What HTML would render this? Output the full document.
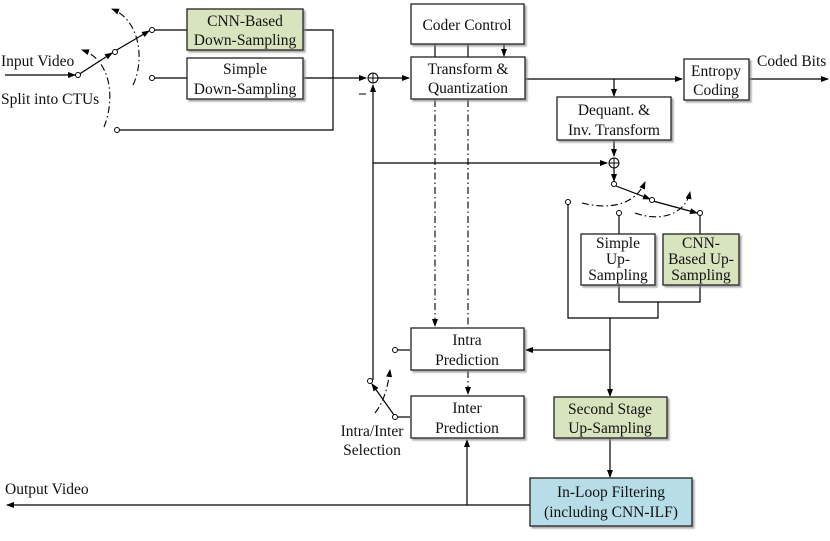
<!DOCTYPE html>
<html><head><meta charset="utf-8"><style>
html,body{margin:0;padding:0;background:#fff}
svg{display:block}
text{font-family:"Liberation Serif",serif;font-size:15.5px;fill:#111;text-anchor:middle}
.l{text-anchor:start}
</style></head><body>
<svg width="830" height="541" viewBox="0 0 830 541" xmlns="http://www.w3.org/2000/svg">
<defs>
<marker id="a" markerWidth="8" markerHeight="8" refX="7" refY="4" orient="auto" markerUnits="userSpaceOnUse"><path d="M0,1 L8,4 L0,7z" fill="#000"/></marker>
<filter id="s" x="-10%" y="-10%" width="130%" height="130%"><feDropShadow dx="2" dy="2" stdDeviation="0.8" flood-color="#888" flood-opacity="0.7"/></filter>
</defs>
<g stroke="#000" stroke-width="1.2" fill="none">
<line x1="5" y1="75" x2="75" y2="75" marker-end="url(#a)"/>
<line x1="78" y1="75" x2="112" y2="53" marker-end="url(#a)"/>
<line x1="115" y1="51" x2="149" y2="31" marker-end="url(#a)"/>
<line x1="152" y1="30" x2="187" y2="30"/>
<line x1="154" y1="78" x2="187" y2="78"/>
<polyline points="303,30 333,30 333,130 119,130"/>
<line x1="303" y1="78" x2="366" y2="78" marker-end="url(#a)"/>
<line x1="378" y1="78" x2="409" y2="78" marker-end="url(#a)"/>
<line x1="373" y1="380" x2="373" y2="85" marker-end="url(#a)"/>
<line x1="373" y1="163" x2="607" y2="163" marker-end="url(#a)"/>
<line x1="435" y1="44" x2="435" y2="57"/>
<line x1="468" y1="44" x2="468" y2="57"/>
<line x1="504" y1="44" x2="504" y2="56" marker-end="url(#a)"/>
<line x1="525" y1="79" x2="682" y2="79" marker-end="url(#a)"/>
<line x1="614" y1="79" x2="614" y2="96" marker-end="url(#a)"/>
<line x1="749" y1="79" x2="828" y2="79" marker-end="url(#a)"/>
<line x1="614" y1="140" x2="614" y2="156" marker-end="url(#a)"/>
<line x1="614" y1="168" x2="614" y2="181" marker-end="url(#a)"/>
<line x1="616" y1="186" x2="650" y2="199" marker-end="url(#a)"/>
<line x1="653" y1="201" x2="697" y2="213" marker-end="url(#a)"/>
<line x1="619" y1="215" x2="619" y2="234"/>
<line x1="700" y1="215" x2="700" y2="234"/>
<polyline points="619,285 619,302 700,302 700,285"/>
<polyline points="568,204 568,318 658,318 658,302"/>
<line x1="610" y1="318" x2="610" y2="396" marker-end="url(#a)"/>
<line x1="610" y1="350" x2="526" y2="350" marker-end="url(#a)"/>
<line x1="610" y1="438" x2="610" y2="477" marker-end="url(#a)"/>
<line x1="530" y1="505" x2="7" y2="505" marker-end="url(#a)"/>
<line x1="467" y1="505" x2="467" y2="440" marker-end="url(#a)"/>
<line x1="398" y1="350" x2="410" y2="350"/>
<line x1="398" y1="417" x2="410" y2="417"/>
<line x1="394" y1="415" x2="372" y2="384" marker-end="url(#a)"/>
</g>
<g stroke="#000" stroke-width="1.1" fill="none" stroke-dasharray="7,3,1.5,3">
<line x1="435" y1="100" x2="435" y2="326" marker-end="url(#a)"/>
<line x1="468" y1="100" x2="468" y2="328"/>
<line x1="468" y1="371" x2="468" y2="394" marker-end="url(#a)"/>
<path d="M104,127 C115,100 112,60 82,50" marker-end="url(#a)"/>
<path d="M133,85 C145,60 140,20 112,9" marker-end="url(#a)"/>
<path d="M375,413 C385,400 388,385 390,370" marker-end="url(#a)"/>
<path d="M582,203 C610,210 635,205 645,182" marker-end="url(#a)"/>
<path d="M635,213 C660,222 685,215 690,192" marker-end="url(#a)"/>
</g>
<g stroke="#000" stroke-width="1" fill="#fff">
<circle cx="78" cy="75" r="2.5"/><circle cx="115" cy="52" r="2.5"/><circle cx="152" cy="30" r="2.5"/>
<circle cx="152" cy="78" r="2.5"/><circle cx="117" cy="130" r="2.5"/>
<circle cx="614" cy="184" r="2.5"/><circle cx="652" cy="200" r="2.5"/><circle cx="700" cy="213" r="2.5"/>
<circle cx="568" cy="202" r="2.5"/><circle cx="619" cy="213" r="2.5"/>
<circle cx="395" cy="350" r="2.5"/><circle cx="395" cy="417" r="2.5"/><circle cx="370" cy="381" r="2.5"/>
<circle cx="373" cy="78" r="5"/><circle cx="614" cy="163" r="5"/>
</g>
<g stroke="#000" stroke-width="1">
<line x1="368" y1="78" x2="378" y2="78"/><line x1="373" y1="73" x2="373" y2="83"/>
<line x1="609" y1="163" x2="619" y2="163"/><line x1="614" y1="158" x2="614" y2="168"/>
<line x1="359" y1="94" x2="366" y2="94"/>
</g>
<g stroke="#222" stroke-width="1.3" filter="url(#s)">
<rect x="187" y="9" width="116" height="41" fill="#d7e4bd"/>
<rect x="187" y="58" width="116" height="41" fill="#fff"/>
<rect x="411" y="4" width="113" height="40" fill="#fff"/>
<rect x="411" y="57" width="114" height="42" fill="#fff"/>
<rect x="684" y="59" width="65" height="41" fill="#fff"/>
<rect x="557" y="97" width="114" height="43" fill="#fff"/>
<rect x="581" y="234" width="74" height="51" fill="#fff"/>
<rect x="663" y="234" width="76" height="51" fill="#d7e4bd"/>
<rect x="411" y="328" width="113" height="42" fill="#fff"/>
<rect x="411" y="396" width="113" height="42" fill="#fff"/>
<rect x="554" y="397" width="113" height="41" fill="#d7e4bd"/>
<rect x="530" y="478" width="162" height="48" fill="#b7dee8"/>
</g>
<text x="245" y="26">CNN-Based</text><text x="245" y="45">Down-Sampling</text>
<text x="245" y="74">Simple</text><text x="245" y="94">Down-Sampling</text>
<text x="467" y="30">Coder Control</text>
<text x="468" y="74">Transform &amp;</text><text x="468" y="93">Quantization</text>
<text x="716" y="76">Entropy</text><text x="716" y="95">Coding</text>
<text x="614" y="115">Dequant. &amp;</text><text x="614" y="135">Inv. Transform</text>
<text x="618" y="248">Simple</text><text x="618" y="264">Up-</text><text x="618" y="280">Sampling</text>
<text x="701" y="248">CNN-</text><text x="701" y="264">Based Up-</text><text x="701" y="280">Sampling</text>
<text x="467" y="345">Intra</text><text x="467" y="365">Prediction</text>
<text x="467" y="413">Inter</text><text x="467" y="433">Prediction</text>
<text x="610" y="414">Second Stage</text><text x="610" y="433">Up-Sampling</text>
<text x="611" y="497">In-Loop Filtering</text><text x="611" y="517">(including CNN-ILF)</text>
<text class="l" x="1" y="66">Input Video</text>
<text class="l" x="1" y="104">Split into CTUs</text>
<text class="l" x="757" y="66">Coded Bits</text>
<text class="l" x="5" y="494">Output Video</text>
<text x="372" y="436">Intra/Inter</text><text x="372" y="455">Selection</text>
</svg>
</body></html>
